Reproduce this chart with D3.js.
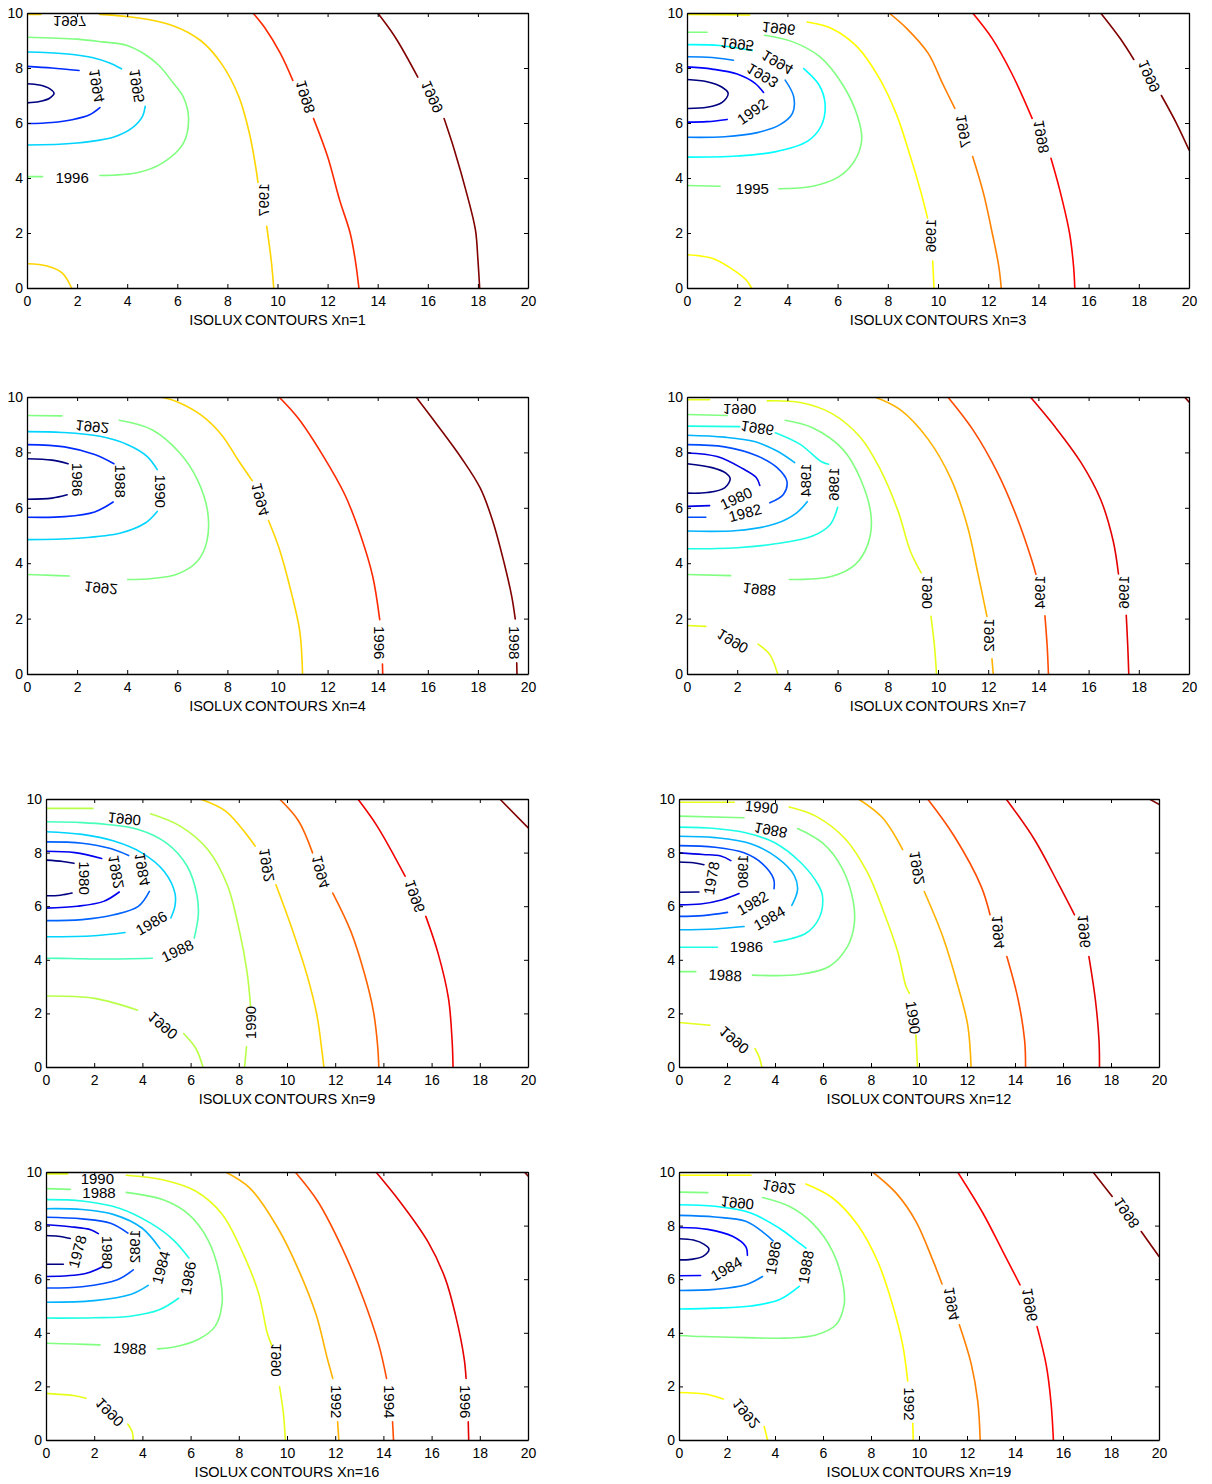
<!DOCTYPE html>
<html>
<head>
<meta charset="utf-8">
<script src="https://cdn.jsdelivr.net/npm/d3@7/dist/d3.min.js"></script>
<style>
    body { margin: 0; background: #fff; }
    svg { display: block; font-family: Arial, "Liberation Sans", sans-serif; }
</style>
</head>
<body>
<svg id="chart" width="1212" height="1484"></svg>
<script>
// tick values shared by every panel
let xTicks = [0, 2, 4, 6, 8, 10, 12, 14, 16, 18, 20];
let yTicks = [0, 2, 4, 6, 8, 10];

// ---- Xn=1 ----
let xn1Levels = [1993, 1994, 1995, 1996, 1997, 1998, 1999];
let xn1Lines = [
    [1993, [[0,7.43],[0.5,7.38],[0.9,7.25],[1.08,7.08],[0.9,6.9],[0.5,6.78],[0,6.73]]],
    [1994, [[0,8.06],[1,8.0],[2.08,7.91]]],
    [1994, [[2.91,6.56],[2.5,6.3],[1.8,6.12],[1,6.02],[0,5.98]]],
    [1995, [[0,8.58],[1.5,8.52],[2.6,8.38],[3.3,8.18],[3.77,7.97]]],
    [1995, [[4.72,6.61],[4.6,6.22],[4.2,5.82],[3.5,5.5],[2,5.27],[0,5.2]]],
    [1996, [[0,9.12],[2,9.05],[3,8.95],[4,8.82],[4.7,8.5],[5.27,8.09],[5.8,7.5],[6.24,6.95],[6.45,6.16],[6.24,5.26],[5.4,4.54],[4.44,4.2],[2.91,4.09]]],
    [1996, [[0.62,4.05],[0,4.05]]],
    [1997, [[0,9.95],[0.55,9.95]]],
    [1997, [[2.9,9.95],[4.44,9.82],[5.83,9.54],[6.93,9.0],[7.77,8.15],[8.46,6.95],[8.88,5.62],[9.15,4.29],[9.22,3.84]]],
    [1997, [[9.57,2.24],[9.75,1.0],[9.85,0]]],
    [1997, [[0,0.88],[0.8,0.8],[1.4,0.55],[1.78,0]]],
    [1998, [[9.02,10],[9.48,9.48],[10.12,8.52],[10.61,7.55]]],
    [1998, [[11.44,6.16],[12.0,4.78],[12.48,3.2],[12.9,2.0],[13.1,1.04],[13.25,0]]],
    [1999, [[14.0,10],[14.7,9.12],[15.6,7.67]]],
    [1999, [[16.65,6.16],[17.06,5.02],[17.55,3.45],[17.9,2.12],[18.0,1.04],[18.07,0]]]
];
// [text, x, y, angle, upside down]
let xn1Labels = [
    ["1994", 2.77, 7.35, 80, 1], ["1995", 4.37, 7.35, 80, 1], ["1996", 1.8, 4.0, 0, 0],
    ["1997", 1.7, 9.7, 0, 1], ["1997", 9.43, 3.2, 90, 1], ["1998", 11.1, 6.95, 72, 1],
    ["1999", 16.16, 6.95, 65, 1]
];

// ---- Xn=3 ----
let xn3Levels = [1991, 1992, 1993, 1994, 1995, 1996, 1997, 1998, 1999];
let xn3Lines = [
    [1991, [[0,7.58],[0.8,7.5],[1.4,7.3],[1.64,7.08],[1.4,6.75],[0.8,6.57],[0,6.53]]],
    [1992, [[0,8.04],[1,7.96],[2,7.78],[2.7,7.45],[3.05,7.11]]],
    [1992, [[0,6.03],[0.8,6.05],[1.6,6.13]]],
    [1993, [[0,8.41],[1,8.38],[1.85,8.28]]],
    [1993, [[3.91,7.56],[4.25,6.96],[4.2,6.35],[3.69,5.93],[2.8,5.65],[1.5,5.5],[0,5.48]]],
    [1994, [[0,8.85],[1.3,8.82],[2.6,8.64]]],
    [1994, [[4.65,7.98],[5.25,7.4],[5.5,6.71],[5.35,5.9],[4.79,5.33],[3.5,4.95],[2,4.8],[0,4.76]]],
    [1995, [[0,9.3],[0.8,9.3]]],
    [1995, [[3.09,9.19],[4.22,8.95],[5.29,8.41],[6.21,7.38],[6.8,6.23],[6.96,5.39],[6.7,4.66],[6.07,4.06],[5.0,3.7],[3.66,3.61]]],
    [1995, [[1.32,3.7],[0,3.73]]],
    [1996, [[0,9.95],[2.5,9.93]]],
    [1996, [[4.79,9.67],[5.78,9.43],[6.78,8.77],[7.63,7.68],[8.33,6.35],[8.9,4.78],[9.33,3.45],[9.58,2.55]]],
    [1996, [[9.79,0.98],[9.84,0]]],
    [1996, [[0,1.21],[1,1.08],[1.81,0.68],[2.35,0.3],[2.57,0]]],
    [1997, [[8.05,10],[8.76,9.43],[9.61,8.53],[10.18,7.44],[10.67,6.53]]],
    [1997, [[11.38,4.78],[11.81,3.45],[12.16,2.0],[12.42,0.8],[12.52,0]]],
    [1998, [[11.38,10],[12.16,9.07],[12.94,7.8],[13.75,6.17]]],
    [1998, [[14.5,4.72],[14.85,3.57],[15.24,2.0],[15.4,0.8],[15.45,0]]],
    [1999, [[16.48,10],[17.26,9.07],[17.8,8.31]]],
    [1999, [[18.9,7.0],[19.5,5.99],[20,5.02]]]
];
let xn3Labels = [
    ["1992", 2.6, 6.42, -35, 0], ["1993", 3.0, 7.72, 30, 1], ["1994", 3.6, 8.2, 30, 1],
    ["1995", 2.0, 8.86, 5, 1], ["1995", 2.6, 3.6, 0, 0], ["1996", 3.65, 9.43, 5, 1],
    ["1996", 9.7, 1.9, 90, 1], ["1997", 11.0, 5.7, 80, 1], ["1998", 14.1, 5.5, 80, 1],
    ["1999", 18.4, 7.7, 65, 1]
];

// ---- Xn=4 ----
let xn4Levels = [1986, 1988, 1990, 1992, 1994, 1996, 1998];
let xn4Lines = [
    [1986, [[0,7.77],[1,7.72],[1.64,7.59]]],
    [1986, [[1.6,6.47],[1,6.35],[0,6.31]]],
    [1988, [[0,8.28],[1.5,8.2],[2.7,7.92],[3.47,7.59]]],
    [1988, [[3.44,6.21],[2.7,5.85],[1.5,5.68],[0,5.66]]],
    [1990, [[0,8.75],[1.4,8.72],[2.91,8.58],[4.02,8.28],[4.79,7.86],[5.2,7.38]]],
    [1990, [[5.2,5.87],[4.72,5.45],[3.74,5.09],[2,4.9],[0,4.85]]],
    [1992, [[0,9.33],[1.4,9.32]]],
    [1992, [[3.68,9.16],[4.99,8.82],[6.1,7.98],[6.8,7.02],[7.21,5.87],[7.18,4.79],[6.8,4.07],[5.96,3.59],[5,3.45],[4.02,3.41]]],
    [1992, [[1.69,3.54],[1,3.56],[0,3.59]]],
    [1994, [[5.3,10],[5.96,9.84],[6.93,9.36],[7.77,8.63],[8.46,7.68],[8.99,6.98]]],
    [1994, [[9.64,5.54],[10.06,4.55],[10.54,2.98],[10.89,1.54],[11.0,0]]],
    [1996, [[10.06,10],[10.82,9.24],[11.79,7.92],[12.69,6.47],[13.31,5.03],[13.8,3.53],[14.08,1.96]]],
    [1996, [[14.19,0.36],[14.2,0]]],
    [1998, [[15.53,10],[16.37,9.0],[17.34,7.8],[18.1,6.7],[18.6,5.5],[19.05,4.0],[19.35,2.8],[19.49,1.99]]],
    [1998, [[19.55,0.4],[19.56,0]]]
];
let xn4Labels = [
    ["1986", 2.01, 7.02, 90, 0], ["1988", 3.74, 6.96, 90, 0], ["1990", 5.33, 6.6, 90, 0],
    ["1992", 2.6, 8.92, 5, 1], ["1992", 2.95, 3.1, 5, 1], ["1994", 9.3, 6.3, 75, 1],
    ["1996", 14.06, 1.13, 90, 0], ["1998", 19.45, 1.13, 90, 0]
];

// ---- Xn=7 ----
let xn7Levels = [1978, 1980, 1982, 1984, 1986, 1988, 1990, 1992, 1994, 1996, 1998];
let xn7Lines = [
    [1978, [[0,7.59],[1,7.45],[1.55,7.25],[1.72,7.05],[1.5,6.72],[0.8,6.55],[0,6.53]]],
    [1980, [[0,7.98],[1.2,7.85],[2.21,7.42],[2.75,7.1],[2.9,6.81]]],
    [1980, [[0,6.05],[0.9,6.08]]],
    [1982, [[0,8.28],[1.5,8.2],[2.81,7.87],[3.59,7.45],[3.98,6.96],[3.84,6.48],[3.3,6.18]]],
    [1982, [[0,5.66],[0.75,5.66]]],
    [1984, [[0,8.62],[1.5,8.55],[2.69,8.39],[3.59,8.05],[4.29,7.63]]],
    [1984, [[4.79,6.22],[4.37,5.82],[3.52,5.42],[2,5.18],[0,5.16]]],
    [1986, [[0,8.95],[2.1,8.93]]],
    [1986, [[3.52,8.71],[4.51,8.29],[5.36,7.66],[5.64,7.57]]],
    [1986, [[6.0,6.02],[5.71,5.4],[5.0,4.98],[3.52,4.7],[2,4.56],[0,4.52]]],
    [1988, [[0,9.37],[1.6,9.33]]],
    [1988, [[3.91,9.16],[5.0,8.89],[6.21,8.11],[6.92,7.02],[7.34,5.64],[7.2,4.67],[6.7,3.95],[5.78,3.53],[4.08,3.41]]],
    [1988, [[1.74,3.55],[0,3.59]]],
    [1990, [[0,9.9],[0.9,9.9]]],
    [1990, [[3.2,9.86],[4.51,9.8],[5.78,9.4],[6.92,8.53],[7.7,7.39],[8.41,5.88],[8.9,4.43],[9.33,3.65]]],
    [1990, [[9.72,2.08],[9.86,1.0],[9.94,0]]],
    [1990, [[0,1.75],[0.75,1.72]]],
    [1990, [[2.83,1.08],[3.3,0.7],[3.61,0]]],
    [1992, [[7.48,10],[8.48,9.55],[9.61,8.47],[10.53,7.02],[11.17,5.34],[11.6,3.59],[11.95,2.08]]],
    [1992, [[12.15,0.55],[12.2,0]]],
    [1994, [[10.39,10],[11.38,8.83],[12.37,7.27],[13.15,5.64],[13.75,4.07],[13.9,3.6]]],
    [1994, [[14.26,2.1],[14.35,1.0],[14.4,0]]],
    [1996, [[13.68,10],[14.64,8.95],[15.7,7.63],[16.48,6.3],[16.98,4.8],[17.19,3.61]]],
    [1996, [[17.5,2.12],[17.56,1.0],[17.6,0]]],
    [1998, [[19.82,10],[20,9.82]]]
];
let xn7Labels = [
    ["1980", 1.96, 6.34, -25, 0], ["1982", 2.31, 5.82, -15, 0], ["1984", 4.72, 7.0, 90, 1],
    ["1986", 2.8, 8.87, 8, 1], ["1986", 5.85, 6.85, 90, 1], ["1988", 2.88, 3.05, 5, 1],
    ["1990", 2.1, 9.55, 0, 1], ["1990", 9.54, 2.95, 90, 1], ["1990", 1.81, 1.18, 30, 1],
    ["1992", 12.02, 1.4, 90, 1], ["1994", 14.03, 2.95, 90, 1], ["1996", 17.38, 2.95, 90, 1]
];

// ---- Xn=9 ----
let xn9Levels = [1980, 1982, 1984, 1986, 1988, 1990, 1992, 1994, 1996, 1998];
let xn9Lines = [
    [1980, [[0,7.72],[0.7,7.67],[1.16,7.6]]],
    [1980, [[1.08,6.49],[0.6,6.41],[0,6.39]]],
    [1982, [[0,8.05],[1.2,8.0],[2.31,7.78]]],
    [1982, [[3.04,6.53],[2.39,6.18],[1.3,6.0],[0,5.93]]],
    [1984, [[0,8.4],[1.5,8.35],[2.68,8.15],[3.43,7.89]]],
    [1984, [[4.29,6.55],[3.83,5.99],[2.82,5.68],[1.5,5.5],[0,5.46]]],
    [1986, [[0,8.78],[1.5,8.68],[2.82,8.43],[3.98,7.99],[4.92,7.28],[5.35,6.49],[5.35,6.0],[5.18,5.56]]],
    [1986, [[3.28,5.02],[2,4.9],[0,4.86]]],
    [1988, [[0,9.15],[1.5,9.12],[2.53,9.05],[3.83,8.86],[4.99,8.36],[5.86,7.49],[6.26,6.43],[6.32,5.68],[6.15,4.81]]],
    [1988, [[4.41,4.06],[2.5,4.03],[1,4.05],[0,4.06]]],
    [1990, [[0,9.65],[1.95,9.65]]],
    [1990, [[4.34,9.45],[5.57,8.99],[6.72,8.11],[7.52,6.8],[8.03,5.06],[8.34,3.56],[8.49,2.25]]],
    [1990, [[8.32,0.75],[8.24,0]]],
    [1990, [[0,2.65],[2.02,2.56],[3.8,2.12]]],
    [1990, [[5.71,1.25],[6.22,0.69],[6.51,0]]],
    [1992, [[6.4,10],[7.45,9.55],[8.32,8.68],[8.68,8.24]]],
    [1992, [[9.54,6.8],[10.2,5.18],[10.85,3.37],[11.24,1.94],[11.45,0.6],[11.53,0]]],
    [1994, [[9.69,10],[10.48,9.18],[11.06,7.99]]],
    [1994, [[11.9,6.49],[12.65,5.06],[13.23,3.43],[13.59,2.06],[13.76,0.8],[13.81,0]]],
    [1996, [[12.94,10],[13.74,8.99],[14.9,7.12]]],
    [1996, [[15.76,5.62],[16.27,4.24],[16.7,2.56],[16.85,1.0],[16.89,0]]],
    [1998, [[18.83,10],[20,8.93]]]
];
let xn9Labels = [
    ["1980", 1.59, 7.05, 90, 0], ["1982", 2.89, 7.28, 80, 1], ["1984", 3.98, 7.37, 80, 1],
    ["1986", 4.37, 5.37, -30, 0], ["1988", 5.45, 4.34, -25, 0], ["1990", 3.25, 9.25, 5, 1],
    ["1990", 4.84, 1.54, 40, 1], ["1990", 8.49, 1.66, -90, 0], ["1992", 9.14, 7.53, 80, 1],
    ["1994", 11.38, 7.28, 75, 1], ["1996", 15.29, 6.37, 70, 1]
];

// ---- Xn=12 ----
let xn12Levels = [1978, 1980, 1982, 1984, 1986, 1988, 1990, 1992, 1994, 1996, 1998];
let xn12Lines = [
    [1978, [[0,7.65],[0.6,7.62],[1.04,7.55]]],
    [1978, [[0.83,6.53],[0,6.52]]],
    [1980, [[0,7.99],[1,7.93],[1.74,7.87],[2.16,7.7]]],
    [1980, [[2.5,6.47],[1.81,6.24],[0.9,6.08],[0,6.05]]],
    [1982, [[0,8.26],[1.5,8.2],[2.71,7.99],[3.48,7.58],[3.94,7.02],[3.96,6.65]]],
    [1982, [[2.02,5.77],[1,5.65],[0,5.62]]],
    [1984, [[0,8.61],[1.5,8.56],[2.99,8.33],[4.1,7.8],[4.8,7.15],[4.94,6.62],[4.7,6.03]]],
    [1984, [[2.71,5.24],[1.5,5.15],[0,5.12]]],
    [1986, [[0,8.95],[1.5,8.9],[2.78,8.74],[4.01,8.36],[5.08,7.62],[5.8,6.8],[5.98,6.37],[5.84,5.56],[5.29,4.99],[3.96,4.66]]],
    [1986, [[1.6,4.47],[0,4.47]]],
    [1988, [[0,9.36],[2.71,9.3]]],
    [1988, [[4.94,8.9],[5.98,8.36],[6.79,7.43],[7.26,6.18],[7.3,5.31],[7.02,4.49],[6.26,3.75],[5.0,3.45],[3.06,3.43]]],
    [1988, [[0.7,3.56],[0,3.56]]],
    [1990, [[0,9.88],[2.3,9.88]]],
    [1990, [[4.59,9.7],[5.7,9.36],[6.95,8.49],[7.86,7.24],[8.55,5.74],[9.11,4.31],[9.46,3.0],[9.6,2.75]]],
    [1990, [[9.87,1.19],[9.94,0]]],
    [1990, [[0,1.66],[1.29,1.56]]],
    [1990, [[3.17,0.69],[3.35,0.35],[3.45,0]]],
    [1992, [[7.48,10],[8.48,9.3],[9.32,8.11]]],
    [1992, [[10.22,6.55],[10.99,4.87],[11.61,3.06],[12.03,1.56],[12.17,0]]],
    [1994, [[10.36,10],[11.47,8.61],[12.59,6.74],[12.96,5.68]]],
    [1994, [[13.66,4.12],[14.12,2.56],[14.4,1.0],[14.44,0]]],
    [1996, [[13.63,10],[14.81,8.49],[15.79,6.87],[16.48,5.68]]],
    [1996, [[17.08,4.12],[17.35,2.5],[17.5,1.0],[17.52,0]]],
    [1998, [[19.6,10],[20,9.8]]]
];
let xn12Labels = [
    ["1978", 1.35, 7.05, -80, 0], ["1980", 2.67, 7.3, 90, 1], ["1982", 3.06, 6.12, -30, 0],
    ["1984", 3.76, 5.56, -30, 0], ["1986", 2.81, 4.49, 0, 0], ["1988", 3.82, 8.83, 10, 1],
    ["1988", 1.92, 3.43, 3, 0], ["1990", 3.44, 9.71, 5, 0], ["1990", 9.76, 1.85, 82, 0],
    ["1990", 2.29, 1.0, 40, 1], ["1992", 9.9, 7.43, 80, 1], ["1994", 13.28, 5.03, 85, 1],
    ["1996", 16.86, 5.06, 85, 1]
];

// ---- Xn=16 ----
let xn16Levels = [1978, 1980, 1982, 1984, 1986, 1988, 1990, 1992, 1994, 1996, 1998];
let xn16Lines = [
    [1978, [[0,7.63],[0.5,7.6],[1.01,7.52]]],
    [1978, [[0.72,6.56],[0,6.56]]],
    [1980, [[0,8.03],[1,7.96],[1.88,7.84],[2.17,7.7]]],
    [1980, [[2.39,6.48],[1.6,6.2],[0,6.1]]],
    [1982, [[0,8.31],[1.5,8.25],[2.68,8.09],[3.4,7.72]]],
    [1982, [[3.62,6.35],[2.96,5.98],[1.5,5.72],[0,5.67]]],
    [1984, [[0,8.63],[1.5,8.6],[2.82,8.41],[3.98,7.91],[4.73,7.14]]],
    [1984, [[4.24,5.77],[3.54,5.44],[2,5.2],[0,5.14]]],
    [1986, [[0,8.97],[1.5,8.92],[3.04,8.65],[4.34,8.09],[5.28,7.47],[5.93,6.79]]],
    [1986, [[5.5,5.29],[4.7,4.86],[3.5,4.62],[2,4.56],[0,4.55]]],
    [1988, [[0,9.38],[1.01,9.35]]],
    [1988, [[3.33,9.24],[4.84,8.97],[5.93,8.41],[6.72,7.47],[7.23,6.04],[7.3,5.04],[7.01,4.23],[6.29,3.74],[5.21,3.45],[4.63,3.4]]],
    [1988, [[2.24,3.55],[1.2,3.58],[0,3.61]]],
    [1990, [[0,9.93],[0.9,9.93]]],
    [1990, [[3.33,9.88],[4.84,9.71],[6.22,9.28],[7.3,8.43],[8.17,6.97],[8.82,5.48],[9.18,3.99],[9.36,3.55]]],
    [1990, [[9.69,1.99],[9.85,1.0],[9.93,0]]],
    [1990, [[0,1.74],[1.2,1.65],[1.66,1.56]]],
    [1990, [[3.4,0.59],[3.58,0.3],[3.62,0]]],
    [1992, [[7.45,10],[8.46,9.4],[9.62,7.91],[10.48,6.35],[11.21,4.67],[11.67,3.05],[11.9,2.3]]],
    [1992, [[12.1,0.68],[12.15,0]]],
    [1994, [[10.34,10],[11.28,8.9],[12.29,7.16],[13.16,5.29],[13.81,3.55],[14.13,2.3]]],
    [1994, [[14.38,0.68],[14.42,0]]],
    [1996, [[13.69,10],[14.68,8.9],[15.84,7.41],[16.56,6.04],[16.99,4.67],[17.35,3.05],[17.43,2.3]]],
    [1996, [[17.52,0.68],[17.54,0]]],
    [1998, [[19.85,10],[20,9.85]]]
];
let xn16Labels = [
    ["1978", 1.3, 7.03, -75, 0], ["1980", 2.56, 7.0, 90, 0], ["1982", 3.69, 7.22, 90, 1],
    ["1984", 4.77, 6.44, -75, 0], ["1986", 5.89, 6.04, -80, 0], ["1988", 2.2, 9.25, 0, 0],
    ["1988", 3.47, 3.42, 3, 0], ["1990", 2.13, 9.76, 0, 0], ["1990", 9.54, 2.99, 90, 1],
    ["1990", 2.63, 1.03, 45, 1], ["1992", 12.03, 1.43, 90, 0], ["1994", 14.24, 1.43, 90, 0],
    ["1996", 17.4, 1.43, 90, 0]
];

// ---- Xn=19 ----
let xn19Levels = [1982, 1984, 1986, 1988, 1990, 1992, 1994, 1996, 1998];
let xn19Lines = [
    [1982, [[0,7.51],[0.6,7.46],[1.05,7.3],[1.25,7.12],[1.0,6.85],[0.5,6.74],[0,6.72]]],
    [1984, [[0,7.93],[1.2,7.86],[2.23,7.6],[2.78,7.22],[2.85,6.89]]],
    [1984, [[0.9,6.14],[0,6.13]]],
    [1986, [[0,8.38],[1.5,8.32],[2.78,8.16],[3.55,7.72],[3.92,7.43]]],
    [1986, [[3.48,6.1],[2.78,5.79],[1.5,5.62],[0,5.58]]],
    [1988, [[0,8.78],[1.5,8.72],[2.99,8.47],[4.17,7.91],[5.01,7.35],[5.29,7.16]]],
    [1988, [[5.01,5.73],[4.17,5.23],[3,5.0],[1.5,4.92],[0,4.89]]],
    [1990, [[0,9.25],[1.2,9.23]]],
    [1990, [[3.48,9.05],[4.59,8.72],[5.56,8.09],[6.4,7.04],[6.84,5.79],[6.88,5.04],[6.54,4.3],[5.7,3.92],[4.45,3.8],[2.8,3.82],[1,3.86],[0,3.9]]],
    [1992, [[0,9.88],[3.0,9.88]]],
    [1992, [[5.29,9.55],[6.4,9.03],[7.44,8.03],[8.28,6.66],[8.9,5.04],[9.32,3.55],[9.53,2.2]]],
    [1992, [[9.74,0.62],[9.76,0]]],
    [1992, [[0,1.77],[1.2,1.7],[1.84,1.53]]],
    [1992, [[3.55,0.5],[3.69,0]]],
    [1994, [[8.07,10],[9.04,9.22],[9.87,8.16],[10.57,6.72],[10.96,5.82]]],
    [1994, [[11.68,4.3],[12.17,2.86],[12.45,1.43],[12.55,0]]],
    [1996, [[11.61,10],[12.66,8.47],[13.49,7.04],[14.21,5.79]]],
    [1996, [[14.92,4.23],[15.3,2.8],[15.5,1.4],[15.6,0]]],
    [1998, [[17.25,10],[18.05,9.09]]],
    [1998, [[19.26,7.78],[20,6.85]]]
];
let xn19Labels = [
    ["1984", 1.97, 6.39, -30, 0], ["1986", 3.92, 6.8, -80, 0], ["1988", 5.28, 6.45, -80, 0],
    ["1990", 2.43, 8.84, 5, 1], ["1992", 4.17, 9.43, 8, 1], ["1992", 9.6, 1.35, 90, 0],
    ["1992", 2.78, 0.98, 50, 1], ["1994", 11.34, 5.08, 80, 1], ["1996", 14.6, 5.04, 80, 1],
    ["1998", 18.64, 8.47, 55, 1]
];

let panels = [
    {xn: "Xn=1", levels: xn1Levels, lines: xn1Lines, labels: xn1Labels, box: [27, 13, 528, 288]},
    {xn: "Xn=3", levels: xn3Levels, lines: xn3Lines, labels: xn3Labels, box: [687, 13, 1189, 288]},
    {xn: "Xn=4", levels: xn4Levels, lines: xn4Lines, labels: xn4Labels, box: [27, 397, 528, 674]},
    {xn: "Xn=7", levels: xn7Levels, lines: xn7Lines, labels: xn7Labels, box: [687, 397, 1189, 674]},
    {xn: "Xn=9", levels: xn9Levels, lines: xn9Lines, labels: xn9Labels, box: [46, 799, 528, 1067]},
    {xn: "Xn=12", levels: xn12Levels, lines: xn12Lines, labels: xn12Labels, box: [679, 799, 1159, 1067]},
    {xn: "Xn=16", levels: xn16Levels, lines: xn16Lines, labels: xn16Labels, box: [46, 1172, 528, 1440]},
    {xn: "Xn=19", levels: xn19Levels, lines: xn19Lines, labels: xn19Labels, box: [679, 1172, 1159, 1440]}
];

// matlab style jet colormap
function jet(t) {
    let c = v => Math.max(0, Math.min(1, v)) * 255;
    return d3.rgb(c(1.5 - Math.abs(4 * t - 3)), c(1.5 - Math.abs(4 * t - 2)), c(1.5 - Math.abs(4 * t - 1))).formatHex();
}

let svg = d3.select("#chart");

panels.forEach(function (p, i) {
    let [x0, y0, x1, y1] = p.box;
    let x = d3.scaleLinear().domain([0, 20]).range([x0, x1]),
        y = d3.scaleLinear().domain([0, 10]).range([y1, y0]);
    let color = d3.scaleLinear()
        .domain([p.levels[0], p.levels[p.levels.length - 1]])
        .range([0, 1]);

    let g = svg.append("g").attr("class", "panel");

    g.append("clipPath").attr("id", "clip" + i)
        .append("rect")
        .attr("x", x0).attr("y", y0)
        .attr("width", x1 - x0).attr("height", y1 - y0);

    let plot = g.append("g").attr("clip-path", "url(#clip" + i + ")");

    let line = d3.line()
        .x(d => x(d[0]))
        .y(d => y(d[1]))
        .curve(d3.curveCatmullRom.alpha(0.5));

    plot.selectAll("path.contour")
        .data(p.lines)
        .enter().append("path")
        .attr("class", "contour")
        .attr("d", d => line(d[1]))
        .attr("fill", "none")
        .attr("stroke", d => jet(color(d[0])))
        .attr("stroke-width", 1.6)
        .attr("stroke-linejoin", "round")
        .attr("stroke-linecap", "round");

    plot.selectAll("text.clabel")
        .data(p.labels)
        .enter().append("text")
        .attr("class", "clabel")
        .attr("transform", d => "translate(" + x(d[1]) + "," + y(d[2]) + ") rotate(" + d[3] + ")" + (d[4] ? " scale(1,-1)" : ""))
        .attr("text-anchor", "middle")
        .attr("dy", "0.36em")
        .style("font-size", "15px")
        .attr("fill", "#000")
        .text(d => d[0]);

    // axes, ticks pointing inward on all four sides
    let axisStyle = function (sel) {
        sel.selectAll(".domain").attr("stroke", "#000").attr("stroke-width", 1.3);
        sel.selectAll(".tick line").attr("stroke", "#000").attr("stroke-width", 1);
        sel.selectAll("text").style("font-size", "14px").style("font-family", "Arial, 'Liberation Sans', sans-serif").attr("fill", "#000");
    };

    g.append("g")
        .attr("transform", "translate(0," + y1 + ")")
        .call(d3.axisBottom(x).tickValues(xTicks).tickSize(-4).tickSizeOuter(0).tickPadding(8))
        .call(axisStyle);

    g.append("g")
        .attr("transform", "translate(0," + y0 + ")")
        .call(d3.axisTop(x).tickValues(xTicks).tickSize(-4).tickSizeOuter(0).tickFormat(""))
        .call(axisStyle);

    g.append("g")
        .attr("transform", "translate(" + x0 + ",0)")
        .call(d3.axisLeft(y).tickValues(yTicks).tickSize(-4).tickSizeOuter(0).tickPadding(4))
        .call(axisStyle);

    g.append("g")
        .attr("transform", "translate(" + x1 + ",0)")
        .call(d3.axisRight(y).tickValues(yTicks).tickSize(-4).tickSizeOuter(0).tickFormat(""))
        .call(axisStyle);

    let title = g.append("text")
        .attr("x", (x0 + x1) / 2)
        .attr("y", y1 + 32)
        .attr("dy", "0.35em")
        .attr("text-anchor", "middle")
        .style("font-size", "14.5px")
        .attr("fill", "#000");
    title.append("tspan").style("word-spacing", "-1.5px").text("ISOLUX CONTOURS");
    title.append("tspan").attr("dx", 4).text(p.xn);
});
</script>
</body>
</html>
